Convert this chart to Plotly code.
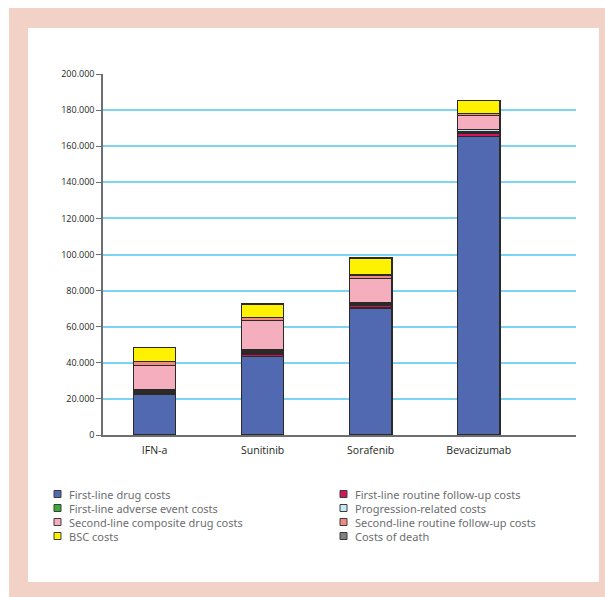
import plotly.graph_objects as go

categories = ["IFN-a", "Sunitinib", "Sorafenib", "Bevacizumab"]

series_names = [
    "First-line drug costs",
    "First-line routine follow-up costs",
    "First-line adverse event costs",
    "Progression-related costs",
    "Second-line composite drug costs",
    "Second-line routine follow-up costs",
    "BSC costs",
    "Costs of death",
]
first_line_drug = [22700, 43400, 70500, 165300]
first_line_followup = [1000, 1500, 1200, 2000]
first_line_adverse = [600, 1000, 900, 900]
progression_related = [600, 1200, 900, 1000]
second_line_drug = [13700, 16200, 13100, 7750]
second_line_followup = [2000, 1900, 2000, 1300]
bsc_costs = [7800, 7400, 9200, 7000]
death_costs = [200, 200, 200, 200]

series_values = [first_line_drug, first_line_followup, first_line_adverse,
                 progression_related, second_line_drug, second_line_followup,
                 bsc_costs, death_costs]
series_colors = ["#5069b1", "#d2145a", "#3aaa35", "#c8e9f8",
                 "#f5aebd", "#f08a85", "#fff200", "#808080"]

y_tickvals = [0, 20000, 40000, 60000, 80000, 100000, 120000, 140000, 160000, 180000, 200000]
y_ticktext = ["0", "20.000", "40.000", "60.000", "80.000", "100.000",
              "120.000", "140.000", "160.000", "180.000", "200.000"]

W, H = 605, 597
L, R, T, B = 103, 576, 74, 435  # plot area in pixels


def px(x):
    return (x - L) / (R - L)


def py(y):
    return (B - y) / (B - T)


fig = go.Figure()
for name, vals, col in zip(series_names, series_values, series_colors):
    fig.add_trace(go.Bar(
        x=categories, y=vals, name=name,
        marker=dict(color=col, line=dict(color="#2b2a29", width=1.5)),
        width=0.39, showlegend=False,
    ))

shapes = [
    dict(type="rect", xref="paper", yref="paper", layer="below",
         x0=px(9), x1=px(606), y0=py(8), y1=py(598),
         fillcolor="#f2d2c6", line=dict(width=0)),
    dict(type="rect", xref="paper", yref="paper", layer="below",
         x0=px(28), x1=px(599), y0=py(28), y1=py(582),
         fillcolor="#ffffff", line=dict(width=0)),
]
annotations = []

# manual legend: two columns, row-wise order
col_x = [54, 340]
row_y = [494, 508, 522, 536]
for i, (name, col) in enumerate(zip(series_names, series_colors)):
    cx = col_x[i % 2]
    cy = row_y[i // 2]
    shapes.append(dict(type="rect", xref="paper", yref="paper",
                       x0=px(cx), x1=px(cx + 7), y0=py(cy - 3.5), y1=py(cy + 3.5),
                       fillcolor=col, line=dict(color="#3c3c3c", width=1)))
    annotations.append(dict(xref="paper", yref="paper", x=px(cx + 13), y=py(cy),
                            text=name, showarrow=False, xanchor="left", yanchor="middle",
                            font=dict(family="Noto Sans", size=11, color="#6d6e71")))

fig.update_layout(
    width=W, height=H,
    margin=dict(l=L, r=W - R, t=T, b=H - B, pad=0),
    paper_bgcolor="#ffffff", plot_bgcolor="rgba(0,0,0,0)",
    barmode="stack", bargap=0.6,
    showlegend=False,
    shapes=shapes, annotations=annotations,
    font=dict(family="Open Sans", color="#231f20"),
    xaxis=dict(range=[-0.477, 3.9], showgrid=False, showline=True,
               linecolor="#6d6e71", linewidth=1.5, ticks="", zeroline=False,
               ticklabelstandoff=5,
               tickfont=dict(size=10.5, color="#231f20"), fixedrange=True),
    yaxis=dict(range=[0, 200000], tickvals=y_tickvals, ticktext=y_ticktext,
               showgrid=True, gridcolor="#7dd3f3", gridwidth=1.5,
               showline=True, linecolor="#6d6e71", linewidth=1.5,
               ticks="outside", ticklen=5, tickcolor="#6d6e71", tickwidth=1,
               zeroline=False, tickfont=dict(size=9, color="#231f20")),
)

fig.write_html("out.html")
